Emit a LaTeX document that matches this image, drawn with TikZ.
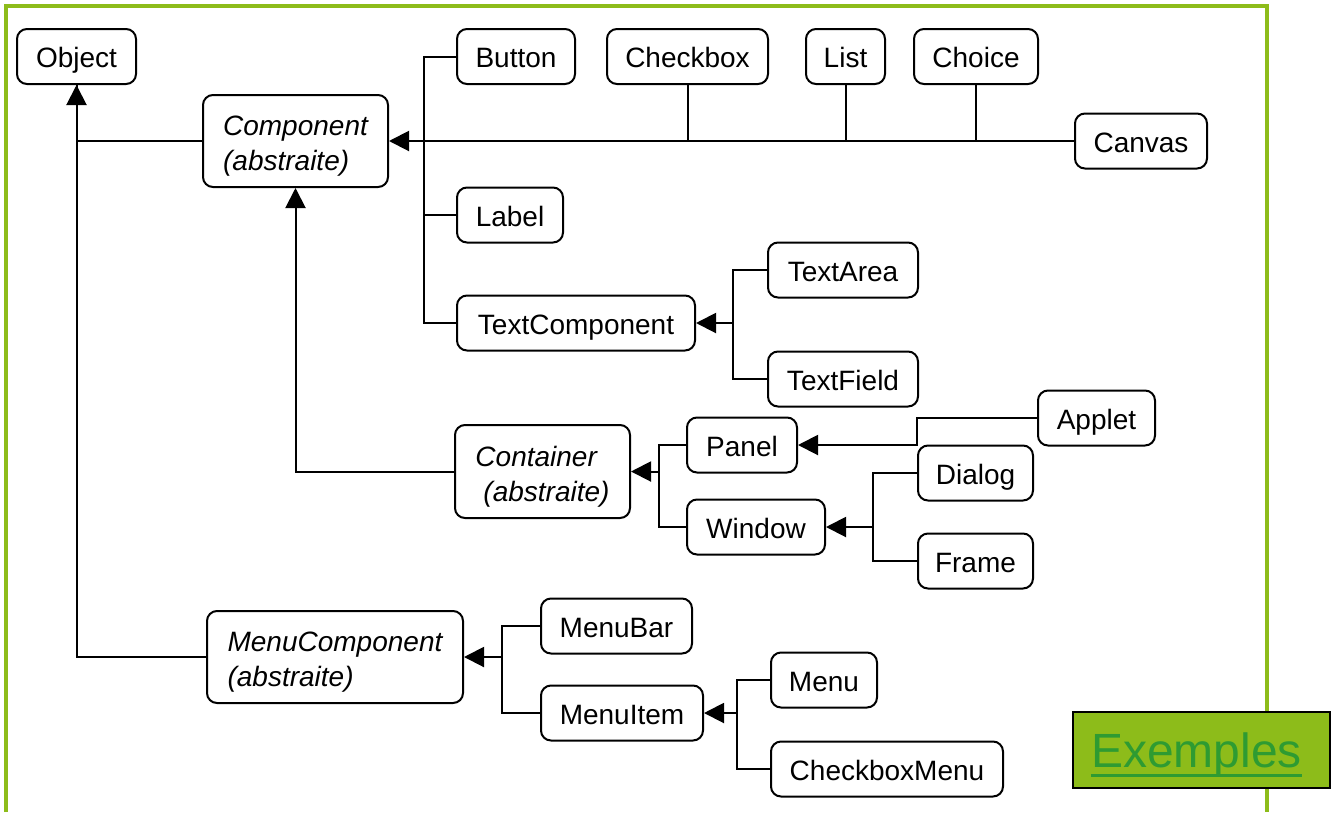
\documentclass[tikz,border=0pt]{standalone}
\usepackage{fontspec}
\setmainfont{Liberation Sans}
\usetikzlibrary{arrows.meta}
\definecolor{framegreen}{RGB}{141,188,26}
\definecolor{linkgreen}{RGB}{46,155,50}
\tikzset{
  cls/.style={draw=black, line width=2pt, rounded corners=10pt, inner sep=0pt,
    minimum height=55pt, text height=22pt, text depth=0pt,
    font=\fontsize{28}{34}\selectfont, fill=white},
  abs/.style={cls, align=left, text height=59pt, text depth=0pt,
    font=\fontsize{28}{35}\selectfont\itshape},
  link/.style={line width=2pt, line join=miter},
  inh/.style={link, -{Triangle[length=20pt,width=20pt]}},
  exbox/.style={draw=black, line width=2pt, fill=framegreen, inner sep=0pt},
  extext/.style={inner sep=0pt, text=linkgreen, font=\fontsize{48}{52}\selectfont}
}
\begin{document}
\begin{tikzpicture}[x=1pt,y=-1pt]
\useasboundingbox (0,0) rectangle (1333,812);

% green page frame (open at the bottom)
\draw[framegreen, line width=4.5pt] (6,812) -- (6,6) -- (1267,6) -- (1267,812);

% classes
\node[cls, minimum width=119pt] (object) at (76.5,56.5) {Object};
\node[abs, minimum width=185pt, minimum height=92pt] (comp) at (295.5,141) {Component\\(abstraite)};
\node[cls, minimum width=118pt] (button) at (516,56.5) {Button};
\node[cls, minimum width=161pt] (checkbox) at (687.5,56.5) {Checkbox};
\node[cls, minimum width=79pt] (list) at (845.5,56.5) {List};
\node[cls, minimum width=124pt] (choice) at (976,56.5) {Choice};
\node[cls, minimum width=132pt] (canvas) at (1141,141) {Canvas};
\node[cls, minimum width=106pt] (label) at (510,215) {Label};
\node[cls, minimum width=150pt] (tarea) at (843,270) {TextArea};
\node[cls, minimum width=238pt] (tcomp) at (576,323) {TextComponent};
\node[cls, minimum width=150pt] (tfield) at (843,379) {TextField};
\node[cls, minimum width=117pt] (applet) at (1096.5,418) {Applet};
\node[abs, minimum width=175pt, minimum height=93pt] (cont) at (542.5,471.5) {Container\\\hspace{8pt}(abstraite)};
\node[cls, minimum width=110pt] (panel) at (742,445) {Panel};
\node[cls, minimum width=115pt] (dialog) at (975.5,473) {Dialog};
\node[cls, minimum width=138pt] (window) at (756,527) {Window};
\node[cls, minimum width=115pt] (frame) at (975.5,561) {Frame};
\node[abs, minimum width=256pt, minimum height=92pt] (menucomp) at (335,657) {MenuComponent\\(abstraite)};
\node[cls, minimum width=151pt] (menubar) at (616.5,626) {MenuBar};
\node[cls, minimum width=106pt] (menu) at (824,680) {Menu};
\node[cls, minimum width=162pt] (menuitem) at (622,713) {MenuItem};
\node[cls, minimum width=232pt] (cbmenu) at (887,769) {CheckboxMenu};

% junction points of the inheritance trees
\coordinate (cj) at (424,141);
\coordinate (tj) at (733,323);
\coordinate (kj) at (659,471.5);
\coordinate (aj) at (917,445);
\coordinate (wj) at (873,527);
\coordinate (mj) at (502,657);
\coordinate (ij) at (737,713);

% Object
\draw[link] (comp.west) -| (object.south);
\draw[inh] (menucomp.west) -| (object.south);

% Component
\draw[inh] (canvas.west) -- (comp.east);
\draw[link] (button.west) -| (cj);
\draw[link] (tcomp.west) -| (cj);
\draw[link] (label.west) -- (label.west -| cj);
\draw[link] (checkbox.south) -- (checkbox.south |- cj);
\draw[link] (list.south) -- (list.south |- cj);
\draw[link] (choice.south) -- (choice.south |- cj);
\draw[inh] (cont.west) -| (comp.south);

% TextComponent
\draw[link] (tarea.west) -| (tj);
\draw[link] (tfield.west) -| (tj);
\draw[inh] (tj) -- (tcomp.east);

% Container
\draw[link] (panel.west) -| (kj);
\draw[link] (window.west) -| (kj);
\draw[inh] (kj) -- (cont.east);

% Panel
\draw[inh] (applet.west) -| (aj) -- (panel.east);

% Window
\draw[link] (dialog.west) -| (wj);
\draw[link] (frame.west) -| (wj);
\draw[inh] (wj) -- (window.east);

% MenuComponent
\draw[link] (menubar.west) -| (mj);
\draw[link] (menuitem.west) -| (mj);
\draw[inh] (mj) -- (menucomp.east);

% MenuItem
\draw[link] (menu.west) -| (ij);
\draw[link] (cbmenu.west) -| (ij);
\draw[inh] (ij) -- (menuitem.east);

% link button
\node[exbox, minimum width=257pt, minimum height=76pt] (ex) at (1201.5,750) {};
\node[extext, anchor=base] (ext) at (1196.5,767) {Exemples};
\draw[linkgreen, line width=3pt] ([yshift=-8pt]ext.base west) -- ([yshift=-8pt]ext.base east);
\end{tikzpicture}
\end{document}
